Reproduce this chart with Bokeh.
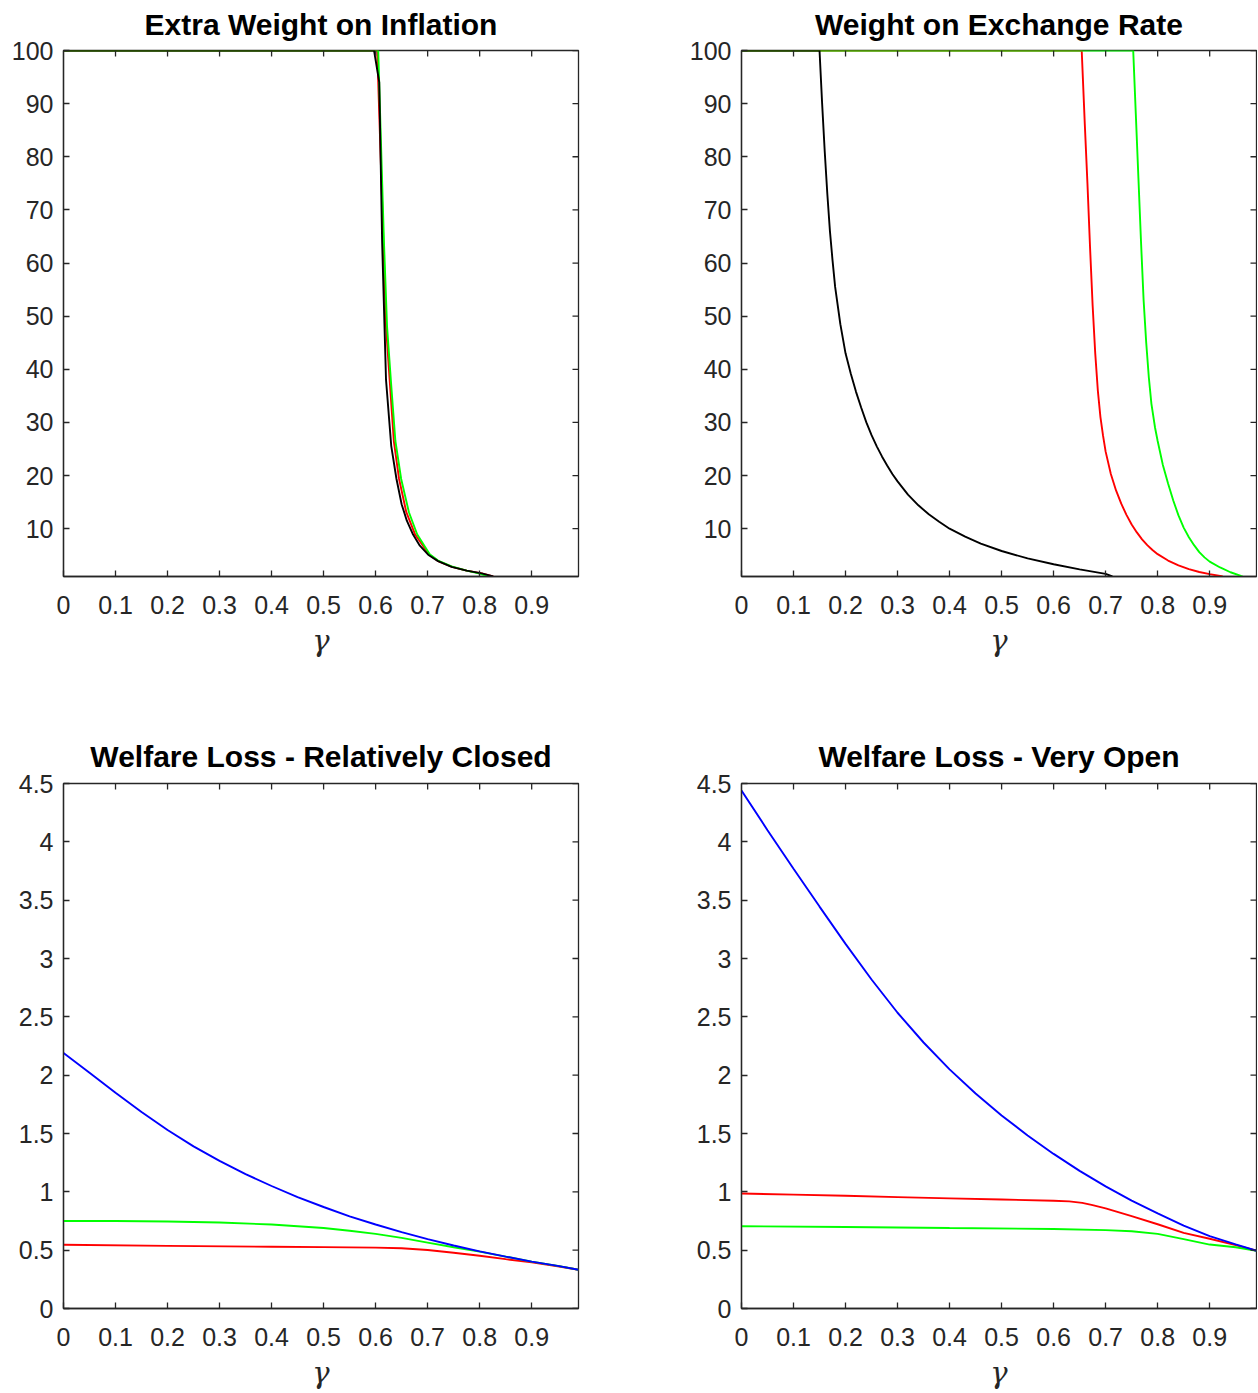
import math
from bokeh.plotting import figure
from bokeh.layouts import column, row
from bokeh.models import FixedTicker, Range1d
from bokeh.embed import file_html
from bokeh.resources import INLINE

# ---------------- data ----------------
# Panel 1: Extra Weight on Inflation
p1_red_x = [0, 0.603, 0.613, 0.62, 0.627, 0.635, 0.645, 0.659, 0.676, 0.703, 0.72, 0.747, 0.775, 0.804, 0.826]
p1_red_y = [100, 100, 70, 48, 38, 26.5, 19.4, 13.1, 8.9, 5.1, 3.9, 2.8, 2.1, 1.6, 1.0]
p1_green_x = [0, 0.605, 0.616, 0.622, 0.63, 0.638, 0.649, 0.664, 0.68, 0.704, 0.72, 0.746, 0.775, 0.80, 0.817]
p1_green_y = [100, 100, 64, 48, 37, 26.5, 19.4, 13.1, 8.9, 5.2, 4.0, 2.9, 2.1, 1.55, 1.0]
p1_black_x = [0, 0.597, 0.607, 0.6125, 0.62, 0.63, 0.64, 0.65, 0.66, 0.672, 0.685, 0.701, 0.72, 0.746, 0.775, 0.804, 0.826]
p1_black_y = [100, 100, 94, 64, 38, 25.6, 19.4, 14.6, 11.5, 8.9, 6.8, 5.1, 3.9, 2.8, 2.1, 1.6, 1.0]

# Panel 2: Weight on Exchange Rate
p2_red_x = [0, 0.654, 0.66, 0.665, 0.67, 0.675, 0.68, 0.685, 0.69, 0.695, 0.70, 0.71, 0.72, 0.73, 0.74,
            0.75, 0.76, 0.77, 0.78, 0.79, 0.80, 0.82, 0.84, 0.86, 0.88, 0.90, 0.92, 0.925]
p2_red_y = [100, 100, 86, 75, 63, 52, 43, 36, 31, 27.5, 24.5, 20.3, 17.2, 14.7, 12.6,
            10.8, 9.3, 8.0, 6.9, 6.0, 5.2, 4.0, 3.1, 2.4, 1.85, 1.45, 1.1, 1.0]
p2_green_x = [0, 0.753, 0.758, 0.763, 0.768, 0.773, 0.778, 0.783, 0.788, 0.795, 0.80, 0.81, 0.82, 0.83,
              0.84, 0.85, 0.86, 0.87, 0.88, 0.89, 0.90, 0.92, 0.94, 0.96, 0.963]
p2_green_y = [100, 100, 88, 76, 64, 53, 45, 38.5, 33.5, 29, 26.5, 22, 18.5, 15.3,
              12.5, 10.2, 8.4, 6.9, 5.6, 4.6, 3.8, 2.7, 1.8, 1.1, 1.0]
p2_black_x = [0, 0.15, 0.155, 0.16, 0.165, 0.17, 0.175, 0.18, 0.19, 0.20, 0.21, 0.22, 0.23, 0.24, 0.25,
              0.26, 0.27, 0.28, 0.29, 0.30, 0.32, 0.34, 0.36, 0.38, 0.40, 0.43, 0.46, 0.50, 0.55,
              0.60, 0.65, 0.70, 0.713]
p2_black_y = [100, 100, 90, 81, 73, 66, 60.5, 55.5, 48.5, 43.0, 39.2, 35.8, 32.8, 30.0, 27.6,
              25.5, 23.6, 21.9, 20.3, 18.9, 16.4, 14.4, 12.7, 11.3, 10.0, 8.5, 7.2, 5.8, 4.4,
              3.3, 2.35, 1.5, 1.0]

# Panel 3: Welfare Loss - Relatively Closed
p3_red_x = [0, 0.2, 0.4, 0.5, 0.6, 0.65, 0.7, 0.75, 0.8, 0.85, 0.9, 0.95, 0.99]
p3_red_y = [0.546, 0.537, 0.529, 0.526, 0.522, 0.516, 0.502, 0.478, 0.452, 0.423, 0.395, 0.362, 0.332]
p3_green_x = [0, 0.1, 0.2, 0.3, 0.4, 0.45, 0.5, 0.55, 0.6, 0.65, 0.7, 0.75, 0.8, 0.85, 0.9, 0.95, 0.99]
p3_green_y = [0.75, 0.75, 0.746, 0.737, 0.72, 0.705, 0.69, 0.667, 0.64, 0.605, 0.565, 0.525, 0.488,
              0.445, 0.402, 0.365, 0.332]
p3_blue_x = [0, 0.05, 0.1, 0.15, 0.2, 0.25, 0.3, 0.35, 0.4, 0.45, 0.5, 0.55, 0.6, 0.65, 0.7, 0.75,
             0.8, 0.85, 0.9, 0.95, 0.99]
p3_blue_y = [2.19, 2.02, 1.85, 1.685, 1.53, 1.39, 1.265, 1.152, 1.05, 0.955, 0.87, 0.79, 0.72, 0.655,
             0.595, 0.54, 0.49, 0.445, 0.402, 0.365, 0.332]

# Panel 4: Welfare Loss - Very Open
p4_red_x = [0, 0.1, 0.2, 0.3, 0.4, 0.5, 0.6, 0.63, 0.655, 0.675, 0.7, 0.75, 0.8, 0.85, 0.9, 0.95, 0.99]
p4_red_y = [0.986, 0.976, 0.966, 0.955, 0.944, 0.934, 0.924, 0.918, 0.905, 0.886, 0.858, 0.792, 0.722,
            0.648, 0.598, 0.543, 0.495]
p4_green_x = [0, 0.2, 0.4, 0.6, 0.7, 0.75, 0.8, 0.85, 0.9, 0.95, 0.99]
p4_green_y = [0.705, 0.699, 0.690, 0.682, 0.672, 0.662, 0.64, 0.595, 0.548, 0.525, 0.495]
p4_blue_x = [0, 0.05, 0.1, 0.15, 0.2, 0.25, 0.3, 0.35, 0.4, 0.45, 0.5, 0.55, 0.6, 0.65, 0.7, 0.75,
             0.8, 0.85, 0.9, 0.95, 0.99]
p4_blue_y = [4.44, 4.10, 3.77, 3.445, 3.125, 2.82, 2.535, 2.28, 2.05, 1.843, 1.655, 1.483, 1.325,
             1.18, 1.047, 0.925, 0.815, 0.71, 0.62, 0.55, 0.495]

# ticks
x_ticks = [0, 0.1, 0.2, 0.3, 0.4, 0.5, 0.6, 0.7, 0.8, 0.9]
x_tick_labels = ["0", "0.1", "0.2", "0.3", "0.4", "0.5", "0.6", "0.7", "0.8", "0.9"]
y_ticks_top = [10, 20, 30, 40, 50, 60, 70, 80, 90, 100]
y_tick_labels_top = ["10", "20", "30", "40", "50", "60", "70", "80", "90", "100"]
y_ticks_bot = [0, 0.5, 1, 1.5, 2, 2.5, 3, 3.5, 4, 4.5]
y_tick_labels_bot = ["0", "0.5", "1", "1.5", "2", "2.5", "3", "3.5", "4", "4.5"]

titles = ["Extra Weight on Inflation", "Weight on Exchange Rate",
          "Welfare Loss - Relatively Closed", "Welfare Loss - Very Open"]
x_label = "γ"

AX = "#262626"
FONT = "Liberation Sans"
X_MAX = 0.99


def style_axis(ax, ticks, labels):
    ax.ticker = FixedTicker(ticks=ticks)
    ax.major_label_overrides = {t: l for t, l in zip(ticks, labels)}
    ax.axis_line_color = AX
    ax.axis_line_width = 1.3
    ax.major_tick_line_color = AX
    ax.major_tick_line_width = 1.3
    ax.major_tick_in = 6
    ax.major_tick_out = 0
    ax.minor_tick_line_color = None
    ax.major_label_text_font = FONT
    ax.major_label_text_color = AX
    ax.major_label_text_font_size = "25px"


def make_panel(title, series, yr, yticks, ylabels, bl, br, bt, bb, fh, tstand, margin):
    p = figure(frame_width=515, frame_height=fh, x_range=Range1d(0, X_MAX),
               y_range=Range1d(*yr), output_backend="svg", toolbar_location=None,
               min_border_left=bl, min_border_right=br, min_border_top=bt,
               min_border_bottom=bb, background_fill_color="white",
               border_fill_color="white", margin=margin)
    p.outline_line_color = AX
    p.outline_line_width = 1.3
    p.xgrid.visible = False
    p.ygrid.visible = False
    p.title.text = title
    p.title.text_font = FONT
    p.title.text_font_size = "30px"
    p.title.text_font_style = "bold"
    p.title.text_color = "black"
    p.title.align = "center"
    p.title.standoff = tstand
    for xs, ys, c in series:
        p.line(xs, ys, line_color=c, line_width=1.9)
    style_axis(p.xaxis[0], x_ticks, x_tick_labels)
    style_axis(p.yaxis[0], yticks, ylabels)
    p.xaxis[0].major_label_standoff = 19
    p.yaxis[0].major_label_standoff = 10
    p.xaxis[0].axis_label = x_label
    p.xaxis[0].axis_label_text_font = "DejaVu Serif"
    p.xaxis[0].axis_label_text_font_style = "italic"
    p.xaxis[0].axis_label_text_font_size = "29px"
    p.xaxis[0].axis_label_text_color = AX
    p.xaxis[0].axis_label_standoff = 7
    # mirrored tick marks on the top and right edges of the box
    p.ray(x=x_ticks[1:], y=[yr[1]] * (len(x_ticks) - 1), length=6, length_units="screen",
          angle=-math.pi / 2, line_color=AX, line_width=1.3)
    p.ray(x=[X_MAX] * len(yticks), y=yticks, length=6, length_units="screen",
          angle=math.pi, line_color=AX, line_width=1.3)
    return p


p1 = make_panel(titles[0], [(p1_red_x, p1_red_y, "#ff0000"), (p1_green_x, p1_green_y, "#00ff00"),
                            (p1_black_x, p1_black_y, "#000000")],
                (1, 100), y_ticks_top, y_tick_labels_top, 63, 50, 50, 124, 526, 19, (-4, 0, 0, 0))
p2 = make_panel(titles[1], [(p2_red_x, p2_red_y, "#ff0000"), (p2_green_x, p2_green_y, "#00ff00"),
                            (p2_black_x, p2_black_y, "#000000")],
                (1, 100), y_ticks_top, y_tick_labels_top, 113, 1, 50, 124, 526, 19, (-4, 0, 0, 0))
p3 = make_panel(titles[2], [(p3_red_x, p3_red_y, "#ff0000"), (p3_green_x, p3_green_y, "#00ff00"),
                            (p3_blue_x, p3_blue_y, "#0000ff")],
                (0, 4.5), y_ticks_bot, y_tick_labels_bot, 63, 50, 83, 80, 525, 22, (0, 0, 0, 0))
p4 = make_panel(titles[3], [(p4_red_x, p4_red_y, "#ff0000"), (p4_green_x, p4_green_y, "#00ff00"),
                            (p4_blue_x, p4_blue_y, "#0000ff")],
                (0, 4.5), y_ticks_bot, y_tick_labels_bot, 113, 1, 83, 80, 525, 22, (0, 0, 0, 0))

layout = column(row(p1, p2, spacing=0), row(p3, p4, spacing=0), spacing=0)
open("out.html", "w").write(file_html(layout, INLINE))
